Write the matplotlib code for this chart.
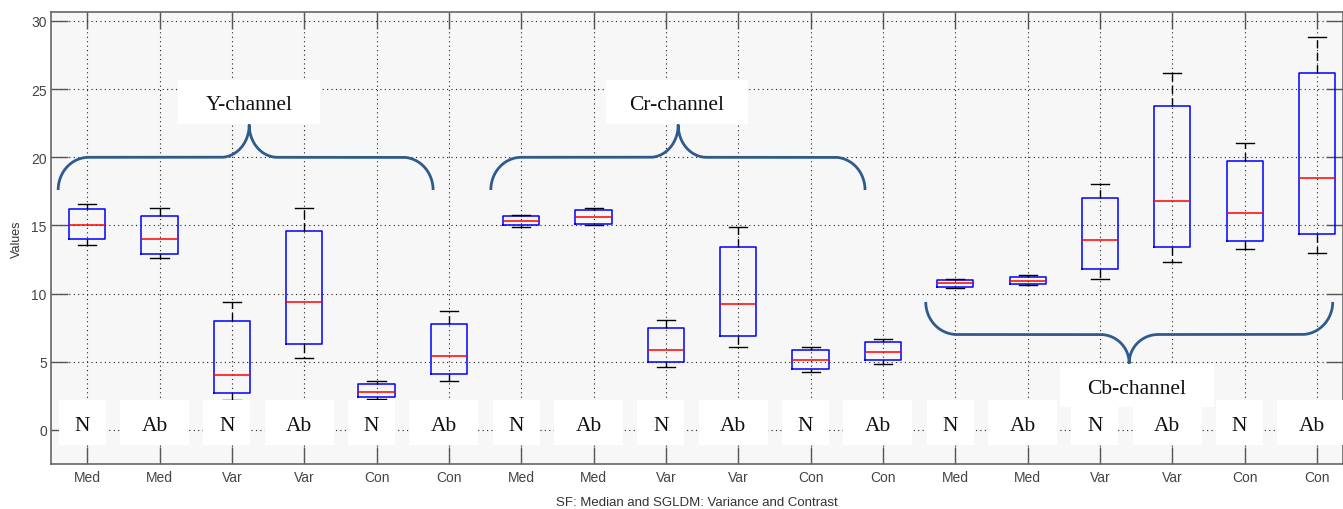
import matplotlib
matplotlib.use('Agg')
import matplotlib.pyplot as plt
from matplotlib.patches import Rectangle
import numpy as np

# ---------------- data ----------------
features = ['Med', 'Med', 'Var', 'Var', 'Con', 'Con'] * 3
groups = ['N', 'Ab'] * 9
channels = ['Y-channel', 'Cr-channel', 'Cb-channel']

whis_hi = [16.6, 16.3, 9.4, 16.3, 3.6, 8.7,
           15.8, 16.3, 8.07, 14.9, 6.08, 6.67,
           11.05, 11.35, 18.04, 26.15, 21.03, 28.8]
q3 = [16.2, 15.7, 8.0, 14.6, 3.4, 7.8,
      15.7, 16.1, 7.5, 13.45, 5.83, 6.47,
      10.98, 11.2, 16.99, 23.8, 19.73, 26.2]
med = [15.05, 14.0, 4.0, 9.4, 2.8, 5.4,
       15.35, 15.6, 5.9, 9.24, 5.12, 5.69,
       10.76, 10.93, 13.9, 16.79, 15.93, 18.5]
q1 = [14.0, 12.9, 2.7, 6.3, 2.4, 4.1,
      15.0, 15.1, 4.98, 6.9, 4.46, 5.1,
      10.51, 10.7, 11.8, 13.45, 13.87, 14.34]
whis_lo = [13.6, 12.6, 2.2, 5.3, 2.3, 3.6,
           14.9, 15.0, 4.65, 6.08, 4.24, 4.85,
           10.44, 10.6, 11.08, 12.35, 13.24, 13.0]

# ---------------- figure ----------------
fig = plt.figure(figsize=(13.43, 5.10), dpi=100)
ax = fig.add_axes([51 / 1343, 1 - 465 / 510, 1 - 51 / 1343, (465 - 13) / 510])
ax.set_facecolor('#f7f7f7')

stats = []
for i in range(len(med)):
    stats.append(dict(med=med[i], q1=q1[i], q3=q3[i],
                      whislo=whis_lo[i], whishi=whis_hi[i], fliers=[]))
positions = np.arange(1, len(med) + 1)
ax.bxp(stats, positions=positions, widths=0.5, showfliers=False,
       boxprops=dict(color='#0000ff', linewidth=1.1),
       medianprops=dict(color='#ff0000', linewidth=1.1),
       whiskerprops=dict(color='black', linewidth=1.0, linestyle=(0, (6, 3))),
       capprops=dict(color='black', linewidth=1.0),
       manage_ticks=False, zorder=3)

ax.set_xlim(0.5, 18.36)
ax.set_ylim(-2.5, 30.66)
ax.set_xticks(positions)
ax.set_xticklabels(features)
ax.set_yticks(np.arange(0, 31, 5))

ax.grid(True, color='#222222', linestyle=(0, (1, 3)), linewidth=0.8)
ax.set_axisbelow(True)

tick_color = '#444444'
ax.tick_params(axis='both', direction='in', length=12, width=1.0,
               color='#555555', labelcolor=tick_color, labelsize=10,
               top=True, right=True)
ax.tick_params(axis='x', pad=4)
ax.tick_params(axis='y', pad=3)
for lab in ax.get_xticklabels() + ax.get_yticklabels():
    lab.set_family('Liberation Sans')
for sp in ax.spines.values():
    sp.set_color('#666666')
    sp.set_linewidth(1.2)

ax.set_ylabel('Values', fontsize=9, color='#333333', family='Liberation Sans')
ax.yaxis.set_label_coords((17 - 51) / 1292, 0.5)
ax.set_xlabel('SF: Median and SGLDM: Variance and Contrast', fontsize=9.5,
              color='#333333', family='Liberation Sans')
ax.xaxis.set_label_coords(0.5, (465 - 503) / 452)
ax.xaxis.label.set_va('center')
ax.yaxis.label.set_va('center')

serif = 'Liberation Serif'
fs = 15.5

# N / Ab label boxes
for i, g in enumerate(groups):
    xc = positions[i] - 0.07
    w = 0.65 if g == 'N' else 0.954
    ax.add_patch(Rectangle((xc - w / 2, -1.10), w, 3.31, facecolor='white',
                           edgecolor='none', zorder=4))
    ax.text(xc, 0.30, g, ha='center', va='center', fontsize=fs,
            family=serif, color='#111111', zorder=5)


# braces
def brace(x0, x1, xc, y_end, y_mid, y_tip, cw, tw, color='#2f5b8c'):
    t = np.linspace(0, np.pi / 2, 40)
    xs, ys = [], []
    xs += list(x0 + cw - cw * np.cos(t)); ys += list(y_end + (y_mid - y_end) * np.sin(t))
    xs += list(xc - tw + tw * np.sin(t)); ys += list(y_tip + (y_mid - y_tip) * np.cos(t))
    xs += list(xc + tw - tw * np.cos(t)); ys += list(y_tip + (y_mid - y_tip) * np.sin(t))
    xs += list(x1 - cw + cw * np.sin(t)); ys += list(y_end + (y_mid - y_end) * np.cos(t))
    ax.plot(xs, ys, color=color, linewidth=2.0, zorder=6, solid_capstyle='butt')


brace(0.599, 5.782, 3.240, 17.6, 20.0, 22.37, 0.42, 0.39)
brace(6.580, 11.753, 9.170, 17.6, 20.0, 22.37, 0.42, 0.39)
brace(12.592, 18.218, 15.404, 9.39, 7.0, 4.9, 0.43, 0.40)

# channel labels
chan_boxes = [(3.239, 24.04, 1.962, 3.23),
              (9.155, 24.04, 1.958, 3.23),
              (15.511, 3.27, 2.124, 3.16)]
for name, (cx, cy, w, h) in zip(channels, chan_boxes):
    ax.add_patch(Rectangle((cx - w / 2, cy - h / 2), w, h, facecolor='white',
                           edgecolor='none', zorder=7))
    ax.text(cx, cy - 0.2, name, ha='center', va='center', fontsize=fs,
            family=serif, color='#111111', zorder=8)

fig.savefig('out.png', dpi=100)
